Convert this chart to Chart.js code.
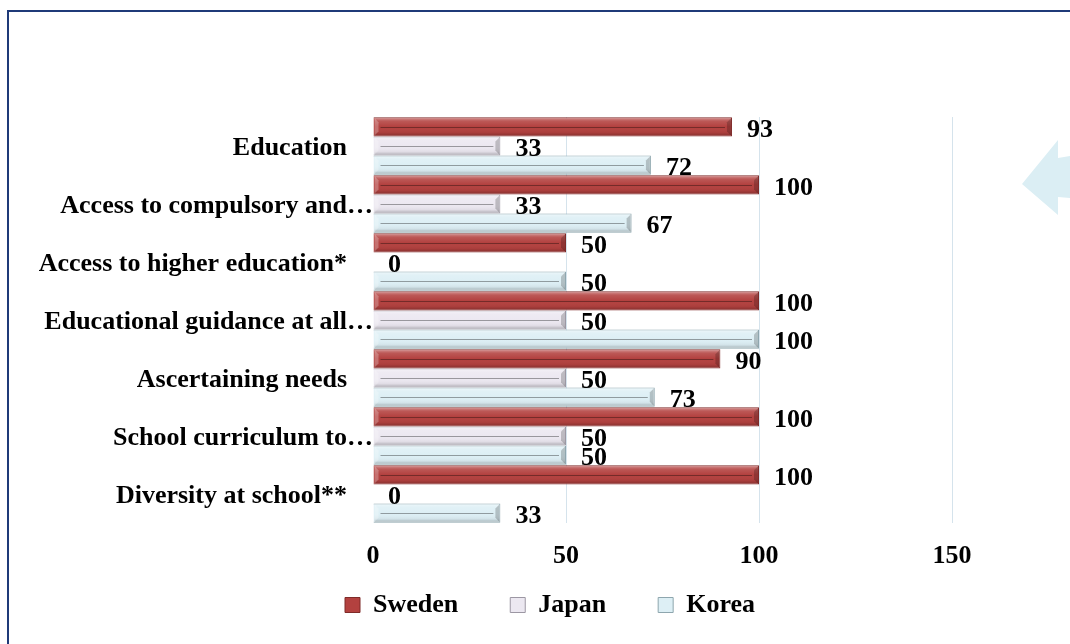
<!DOCTYPE html>
<html><head><meta charset="utf-8">
<script src="https://cdn.jsdelivr.net/npm/chart.js@4.4.0/dist/chart.umd.min.js"></script>
<style>
html,body{margin:0;padding:0;width:1070px;height:644px;overflow:hidden;background:#fff;}
#frame{position:absolute;left:7px;top:10px;width:2000px;height:2000px;border:2px solid #1f3a78;box-sizing:border-box;}
#arrow{position:absolute;left:1022px;top:140px;width:48px;height:75px;background:#dbeef4;clip-path:polygon(0 44px,36px 0,36px 18px,48px 16px,48px 58px,36px 57px,36px 75px);}
#wrap{position:absolute;left:0;top:0;width:1070px;height:644px;}
</style></head>
<body>
<div id="frame"></div><div id="arrow"></div>
<div id="wrap"><canvas id="c" width="1070" height="644"></canvas></div>
<script>
const categories = [
  'Education',
  'Access to compulsory and\u2026',
  'Access to higher education*',
  'Educational guidance at all\u2026',
  'Ascertaining needs',
  'School curriculum to\u2026',
  'Diversity at school**'
];
const seriesNames = ['Sweden', 'Japan', 'Korea'];
const swedenValues = [93, 100, 50, 100, 90, 100, 100];
const japanValues = [33, 33, 0, 50, 50, 50, 0];
const koreaValues = [72, 67, 50, 100, 73, 50, 33];
const xTickValues = [0, 50, 100, 150];

const FONT = { family: "'Liberation Serif', 'Times New Roman', serif", size: 26, weight: 'bold' };
const fills = ['#b3413f', '#ece8f1', '#ddeff5'];
const borders = ['#7f2b29', '#9c97a3', '#8ea6ae'];

const bevel = {
  id: 'bevel',
  afterDatasetDraw(chart, args) {
    const ctx = chart.ctx;
    ctx.save();
    args.meta.data.forEach(el => {
      const p = el.getProps(['x', 'y', 'base', 'height'], true);
      const l = Math.min(p.x, p.base), r = Math.max(p.x, p.base);
      if (r - l < 2) return;
      const t = p.y - p.height / 2, b = p.y + p.height / 2;
      const g = ctx.createLinearGradient(0, t, 0, b);
      g.addColorStop(0, 'rgba(255,255,255,0.45)');
      g.addColorStop(0.2, 'rgba(255,255,255,0.12)');
      g.addColorStop(0.5, 'rgba(255,255,255,0)');
      g.addColorStop(0.8, 'rgba(0,0,0,0.05)');
      g.addColorStop(1, 'rgba(0,0,0,0.28)');
      ctx.fillStyle = g;
      ctx.fillRect(l + 1, t + 1, r - l - 2, b - t - 2);
      ctx.fillStyle = 'rgba(0,0,0,0.2)';
      ctx.beginPath();
      ctx.moveTo(r - 1, t + 1); ctx.lineTo(r - 5, t + 5); ctx.lineTo(r - 5, b - 5); ctx.lineTo(r - 1, b - 1);
      ctx.closePath(); ctx.fill();
      ctx.fillStyle = 'rgba(255,255,255,0.25)';
      ctx.beginPath();
      ctx.moveTo(l + 1, t + 1); ctx.lineTo(l + 5, t + 5); ctx.lineTo(l + 5, b - 5); ctx.lineTo(l + 1, b - 1);
      ctx.closePath(); ctx.fill();
      ctx.strokeStyle = 'rgba(0,0,0,0.35)';
      ctx.lineWidth = 1;
      ctx.beginPath();
      ctx.moveTo(l + 7, Math.round(p.y) + 0.5); ctx.lineTo(r - 7, Math.round(p.y) + 0.5);
      ctx.stroke();
    });
    ctx.restore();
  }
};

const valueLabels = {
  id: 'valueLabels',
  afterDatasetsDraw(chart) {
    const ctx = chart.ctx;
    ctx.save();
    ctx.font = 'bold 26px ' + FONT.family;
    ctx.fillStyle = '#000';
    ctx.textAlign = 'left';
    ctx.textBaseline = 'middle';
    chart.data.datasets.forEach((ds, di) => {
      chart.getDatasetMeta(di).data.forEach((el, i) => {
        const p = el.getProps(['x', 'y'], true);
        ctx.fillText(String(ds.data[i]), p.x + 15, p.y + 3);
      });
    });
    ctx.restore();
  }
};

// place the legend row and category labels where the reference has them
const placement = {
  id: 'placement',
  afterLayout(chart) {
    const lg = chart.legend;
    if (lg) { lg.left += 59; lg.right += 59; lg.top = 540; }
    const ys = chart.scales.y;
    if (ys && !ys._shifted) {
      const orig = ys.drawLabels;
      ys.drawLabels = function (area) {
        this.ctx.save();
        this.ctx.translate(0, 2);
        orig.call(this, area);
        this.ctx.restore();
      };
      ys._shifted = true;
    }
  }
};

const seriesData = [swedenValues, japanValues, koreaValues];
new Chart(document.getElementById('c'), {
  type: 'bar',
  data: {
    labels: categories,
    datasets: seriesNames.map((name, i) => ({
      label: name,
      data: seriesData[i],
      backgroundColor: fills[i],
      borderColor: borders[i],
      borderWidth: c => (c.raw === 0 ? 0 : 1),
      barPercentage: 1,
      categoryPercentage: 0.99
    }))
  },
  options: {
    indexAxis: 'y',
    responsive: false,
    animation: false,
    devicePixelRatio: 1,
    layout: { padding: { left: 30, right: 118, top: 117, bottom: 25 } },
    plugins: {
      legend: {
        position: 'bottom',
        maxHeight: 40,
        labels: { font: FONT, color: '#000', boxWidth: 15, boxHeight: 15, padding: 52 }
      },
      tooltip: { enabled: false }
    },
    scales: {
      x: {
        min: 0, max: 150,
        afterBuildTicks: s => { s.ticks = xTickValues.map(v => ({ value: v })); },
        ticks: { font: FONT, color: '#000', padding: 18, maxRotation: 0 },
        grid: { color: c => (c.tick && c.tick.value === 0 ? 'rgba(0,0,0,0)' : '#d5e3ec'), drawTicks: false },
        border: { display: false },
        afterFit: s => { s.height = 56; }
      },
      y: {
        ticks: {
          font: FONT, color: '#000', padding: 0, autoSkip: false,
          callback: (v, i) => (categories[i].endsWith('\u2026') ? categories[i] : categories[i] + '\u2003')
        },
        grid: { display: false, drawTicks: false },
        border: { display: false },
        afterFit: s => { s.width = 343; }
      }
    }
  },
  plugins: [bevel, valueLabels, placement]
});
</script>
</body></html>
